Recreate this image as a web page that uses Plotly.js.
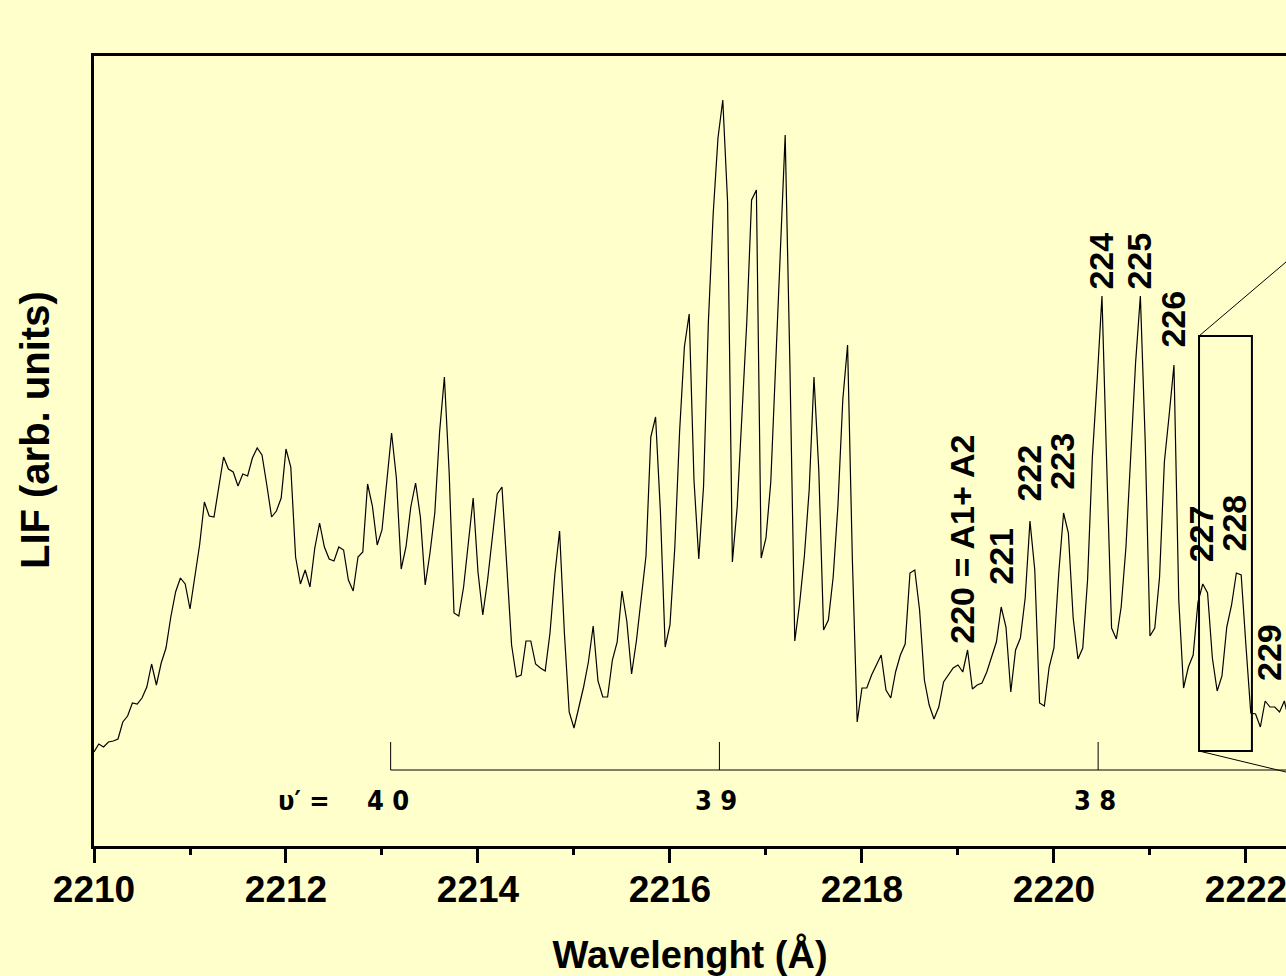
<!DOCTYPE html>
<html>
<head>
<meta charset="utf-8">
<script src="https://cdn.plot.ly/plotly-3.0.1.min.js"></script>
<style>
  html, body { margin: 0; padding: 0; background: #FFFFCC; overflow: hidden; }
  #chart { width: 1286px; height: 976px; }
</style>
</head>
<body>
<div id="chart"></div>
<script>
// LIF excitation spectrum, sampled every 0.05 Å starting at 2210 Å
const lambdaStart = 2210.0;
const lambdaStep = 0.05;

// Signal, arbitrary units
const intensity = [
  9.3, 10.1, 9.8, 10.3, 10.4, 10.6, 12.3, 12.9, 14.2, 14.1,
  14.7, 15.8, 18.1, 16.0, 18.2, 19.7, 22.8, 25.3, 26.7, 26.1,
  23.6, 26.8, 30.0, 34.3, 32.9, 32.8, 35.8, 38.8, 37.6, 37.3,
  35.9, 37.1, 36.9, 38.7, 39.7, 39.0, 36.0, 32.8, 33.4, 34.7,
  39.6, 37.8, 28.8, 26.1, 27.5, 25.8, 29.7, 32.2, 29.8, 28.6,
  28.4, 29.8, 29.5, 26.5, 25.4, 28.8, 29.3, 36.1, 33.9, 30.0,
  31.5, 36.7, 41.2, 36.7, 27.6, 29.8, 33.8, 36.2, 32.8, 26.0,
  29.2, 33.2, 41.3, 46.8, 37.2, 23.2, 22.9, 25.8, 30.5, 34.7,
  27.3, 23.0, 26.5, 30.5, 35.1, 35.8, 28.0, 20.0, 16.8, 17.0,
  20.4, 20.4, 18.1, 17.7, 17.4, 21.2, 27.0, 31.4, 21.2, 13.3,
  11.7, 13.7, 15.8, 18.3, 21.9, 16.4, 14.8, 14.8, 18.5, 20.3,
  25.4, 22.4, 17.1, 20.4, 24.5, 28.9, 40.8, 42.8, 33.4, 19.8,
  22.0, 29.7, 41.3, 49.8, 53.1, 36.5, 28.6, 35.9, 52.3, 63.1,
  70.7, 74.5, 64.3, 28.3, 33.8, 42.8, 52.3, 64.5, 65.5, 28.7,
  30.7, 36.3, 48.4, 59.7, 71.0, 47.6, 20.4, 24.1, 28.9, 35.5,
  46.8, 37.5, 21.5, 22.5, 26.8, 34.0, 44.5, 50.0, 28.5, 12.3,
  15.7, 15.7, 17.0, 18.0, 19.0, 15.5, 14.7, 17.3, 19.0, 20.1,
  27.2, 27.5, 23.5, 16.5, 14.0, 12.6, 13.8, 16.3, 17.0, 17.7,
  18.0, 17.3, 19.5, 15.6, 16.0, 16.2, 17.3, 18.7, 20.3, 23.8,
  21.8, 15.3, 19.5, 20.7, 24.7, 32.4, 27.5, 14.2, 13.9, 17.8,
  19.7, 27.2, 33.2, 31.2, 22.7, 18.6, 19.7, 26.5, 38.8, 46.5,
  54.9, 37.8, 21.7, 20.6, 23.8, 29.8, 39.2, 48.2, 54.9, 40.5,
  20.9, 21.7, 26.8, 38.3, 43.0, 48.0, 24.5, 15.7, 17.8, 19.0,
  24.3, 26.1, 25.2, 18.7, 15.4, 16.9, 21.8, 24.0, 27.2, 27.0,
  19.9, 13.2, 13.1, 11.8, 14.4, 13.8, 13.8, 13.3, 14.4, 12.3
];

// Rotational line assignments (J numbers) with label anchors [wavelength, intensity]
const lineLabels = ['220 = A1+ A2', '221', '222', '223', '224', '225', '226', '227', '228', '229'];
const lineLabelAnchor = [
  [2219.034, 20.0], [2219.44, 25.9], [2219.73, 34.2], [2220.075, 35.4], [2220.48, 55.4],
  [2220.876, 55.4], [2221.23, 49.6], [2221.53, 28.2], [2221.875, 29.3], [2222.235, 16.3]
];

// Vibrational band origins of the upper state
const vibLevels = ['4 0', '3 9', '3 8'];
const vibOrigins = [2213.09, 2216.515, 2220.46];

// Region expanded in the inset
const insetLambda = [2221.511, 2222.062];
const insetSignal = [9.4, 50.9];

const xMax = 2222.417;
const wavelength = intensity.map((_, i) => lambdaStart + lambdaStep * i);

const bold = 'Liberation Sans, Arial, sans-serif';
const narrow = 'Liberation Sans Narrow, DejaVu Sans Condensed, Liberation Serif, serif';

const trace = {
  x: wavelength,
  y: intensity,
  type: 'scatter',
  mode: 'lines',
  line: { color: '#000000', width: 1.2 },
  hoverinfo: 'skip'
};

const shapes = [];
const annotations = [];

// v' progression bar
const barY = 7.5, barTop = 10.3;
shapes.push({ type: 'line', xref: 'x', yref: 'y', x0: vibOrigins[0], x1: xMax, y0: barY, y1: barY,
  line: { color: '#000', width: 1 } });
vibOrigins.forEach((o, k) => {
  shapes.push({ type: 'line', xref: 'x', yref: 'y', x0: o, x1: o, y0: barY, y1: barTop,
    line: { color: '#000', width: 1 } });
  annotations.push({ x: o, y: 4.5, xref: 'x', yref: 'y', text: vibLevels[k], showarrow: false,
    xanchor: 'center', yanchor: 'middle', xshift: -3,
    font: { family: narrow, size: 27, color: '#000', weight: 'bold' } });
});
annotations.push({ x: 2212.186, y: 4.5, xref: 'x', yref: 'y', text: 'υ′ =', showarrow: false,
  xanchor: 'center', yanchor: 'middle',
  font: { family: narrow, size: 27, color: '#000', weight: 'bold' } });

// Inset frame and its connectors
shapes.push({ type: 'rect', xref: 'x', yref: 'y', x0: insetLambda[0], x1: insetLambda[1],
  y0: insetSignal[0], y1: insetSignal[1], line: { color: '#000', width: 2 } });
shapes.push({ type: 'line', xref: 'x', yref: 'y', x0: insetLambda[0], y0: insetSignal[1],
  x1: xMax, y1: 58.3, line: { color: '#000', width: 1 } });
shapes.push({ type: 'line', xref: 'x', yref: 'y', x0: insetLambda[0], y0: insetSignal[0],
  x1: xMax, y1: 7.3, line: { color: '#000', width: 1 } });

// Line assignments, rotated
lineLabels.forEach((t, k) => {
  annotations.push({ x: lineLabelAnchor[k][0], y: lineLabelAnchor[k][1], xref: 'x', yref: 'y',
    text: t, textangle: -90, showarrow: false, xanchor: 'center', yanchor: 'bottom',
    borderpad: 0, font: { family: bold, size: 34, color: '#000', weight: 'bold' } });
});

// Vertical axis title
annotations.push({ x: -0.049, y: 0.526, xref: 'paper', yref: 'paper', text: 'LIF (arb. units)',
  textangle: -90, showarrow: false, xanchor: 'center', yanchor: 'middle',
  font: { family: bold, size: 40, color: '#000', weight: 'bold' } });

const layout = {
  width: 1286,
  height: 976,
  margin: { l: 94, r: 0, t: 56, b: 130 },
  paper_bgcolor: '#FFFFCC',
  plot_bgcolor: '#FFFFCC',
  showlegend: false,
  xaxis: {
    range: [lambdaStart, xMax],
    dtick: 2,
    tick0: 2210,
    ticks: 'outside',
    ticklen: 14,
    tickwidth: 3,
    tickcolor: '#000',
    ticklabelstandoff: -5,
    ticklabeloverflow: 'allow',
    minor: { dtick: 1, tick0: 2210, ticks: 'outside', ticklen: 6, tickwidth: 3, tickcolor: '#000' },
    showgrid: false,
    zeroline: false,
    showline: true,
    linewidth: 3,
    linecolor: '#000',
    mirror: true,
    tickfont: { family: bold, size: 37, color: '#000', weight: 'bold' },
    title: { text: 'Wavelenght (Å)', standoff: 52,
      font: { family: bold, size: 38, color: '#000', weight: 'bold' } }
  },
  yaxis: {
    range: [-0.1, 78.9],
    showticklabels: false,
    ticks: '',
    showgrid: false,
    zeroline: false,
    showline: true,
    linewidth: 3,
    linecolor: '#000',
    mirror: true
  },
  shapes: shapes,
  annotations: annotations
};

Plotly.newPlot('chart', [trace], layout, { staticPlot: true, displayModeBar: false });
</script>
</body>
</html>
